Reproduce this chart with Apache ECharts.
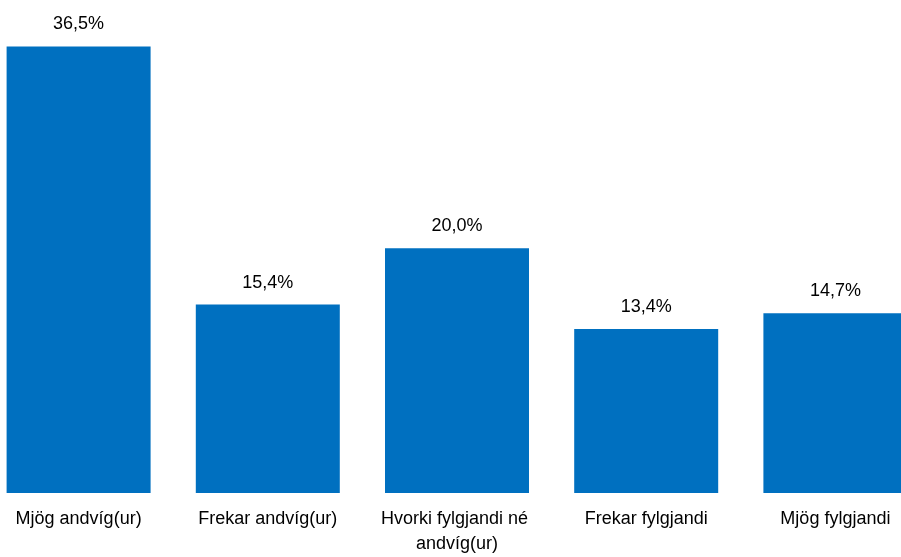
<!DOCTYPE html>
<html>
<head>
    <meta charset="utf-8">
    <title>Afstaða</title>
    <style>
        html, body { margin: 0; padding: 0; background: #fff; overflow: hidden; }
        body { width: 901px; height: 557px; position: relative; }
        /* the plot runs past both edges of the window, like the original */
        #container { position: absolute; left: -16px; top: 0; width: 946px; height: 557px; }
    </style>
</head>
<body>
    <div id="container"></div>
    <script src="https://cdn.jsdelivr.net/npm/echarts@6/dist/echarts.min.js"></script>
    <script>
        var categories = ['Mjög andvíg(ur)', 'Frekar andvíg(ur)', 'Hvorki fylgjandi né andvíg(ur)', 'Frekar fylgjandi', 'Mjög fylgjandi'];
        var values = [36.5, 15.4, 20.0, 13.4, 14.7];

        var font = '"Liberation Sans", Arial, sans-serif';
        var myChart = echarts.init(document.getElementById('container'));

        myChart.setOption({
            backgroundColor: '#fff',
            animation: false,
            grid: { left: 0, right: 0, top: 3.7, bottom: 62.3 },
            xAxis: {
                type: 'category',
                data: categories,
                axisLine: { show: false },
                axisTick: { show: false },
                axisLabel: {
                    interval: 0,
                    margin: 14,
                    color: '#000',
                    fontFamily: font,
                    fontSize: 18,
                    lineHeight: 25,
                    width: 175,
                    overflow: 'break'
                }
            },
            yAxis: {
                type: 'value',
                min: 0,
                max: 40,
                show: false,
                splitLine: { show: false }
            },
            series: [{
                type: 'bar',
                data: values,
                barWidth: 144,
                itemStyle: { color: '#0070C0' },
                label: {
                    show: true,
                    position: 'top',
                    distance: 13,
                    color: '#000',
                    fontFamily: font,
                    fontSize: 18,
                    formatter: function (p) {
                        return p.value.toFixed(1).replace('.', ',') + '%';
                    }
                }
            }]
        });
    </script>
</body>
</html>
